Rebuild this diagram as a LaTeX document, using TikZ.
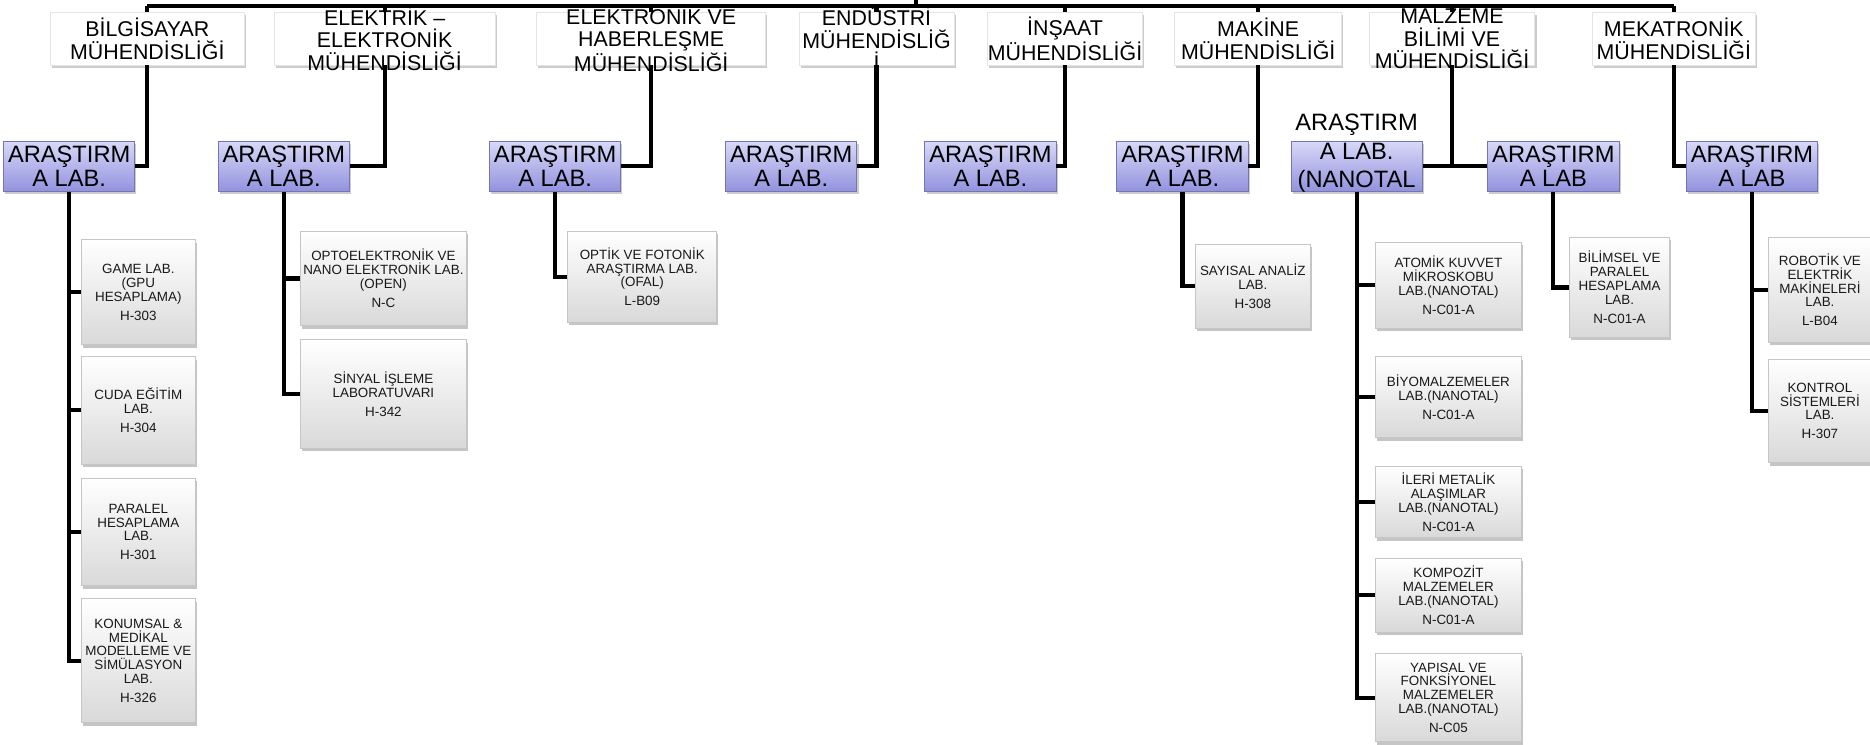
\documentclass[tikz,border=0pt]{standalone}
\usepackage{fontspec}
\setmainfont{Liberation Sans}
\usepackage{tikz}
\usetikzlibrary{shadows}
\newcommand{\px}{0.02cm}
\definecolor{araTop}{RGB}{216,216,248}
\definecolor{araBot}{RGB}{146,146,222}

\begin{document}
\begin{tikzpicture}[x=\px, y=-\px,
        conn/.style={line width=2pt, black},
        dept/.style={draw=gray!20, fill=white, inner sep=0pt, minimum height=44*\px,
            drop shadow={shadow xshift=0.8pt, shadow yshift=-1.2pt, opacity=0.4}},
        dtxt/.style={font=\fontsize{10.2}{10.6}\selectfont, align=center, inner sep=0pt},
        ara/.style={draw=araBot!80!black, top color=araTop, bottom color=araBot, inner sep=0pt,
            minimum width=110*\px, minimum height=42*\px,
            drop shadow={shadow xshift=0.8pt, shadow yshift=-1.2pt, opacity=0.4}},
        atxt/.style={font=\fontsize{11.3}{11.6}\selectfont, align=center, inner sep=0pt},
        lab/.style={draw=gray!45, top color=white, bottom color=gray!30, inner sep=0pt,
            align=center, text=black!90, font=\fontsize{6.4}{6.6}\selectfont,
            drop shadow={shadow xshift=0.8pt, shadow yshift=-1.4pt, opacity=0.45}}]
        \path[use as bounding box, fill=white] (0,0) rectangle (1568,624);

        \node[dept, minimum width=163*\px, label={[dtxt]center:BİLGİSAYAR\\MÜHENDİSLİĞİ}] (d1) at (123.5,32.5) {};
        \node[dept, minimum width=185*\px, label={[dtxt]center:ELEKTRİK –\\ELEKTRONİK\\MÜHENDİSLİĞİ}] (d2) at (322.5,32.5) {};
        \node[dept, minimum width=192*\px, label={[dtxt]center:ELEKTRONİK VE\\HABERLEŞME\\MÜHENDİSLİĞİ}] (d3) at (546,32.5) {};
        \node[dept, minimum width=130*\px, label={[dtxt]center:ENDÜSTRİ\\MÜHENDİSLİĞ\\İ}] (d4) at (735,32.5) {};
        \node[dept, minimum width=130*\px, label={[dtxt]center:İNŞAAT\\MÜHENDİSLİĞİ}] (d5) at (893,32.5) {};
        \node[dept, minimum width=140*\px, label={[dtxt]center:MAKİNE\\MÜHENDİSLİĞİ}] (d6) at (1055,32.5) {};
        \node[dept, minimum width=139*\px, label={[dtxt]center:MALZEME\\BİLİMİ VE\\MÜHENDİSLİĞİ}] (d7) at (1217.5,32.5) {};
        \node[dept, minimum width=137*\px, label={[dtxt]center:MEKATRONİK\\MÜHENDİSLİĞİ}] (d8) at (1403.5,32.5) {};

        \node[ara, label={[atxt]center:ARAŞTIRM\\A LAB.}] (a1) at (58,139.5) {};
        \node[ara, label={[atxt]center:ARAŞTIRM\\A LAB.}] (a2) at (238,139.5) {};
        \node[ara, label={[atxt]center:ARAŞTIRM\\A LAB.}] (a3) at (465.5,139.5) {};
        \node[ara, label={[atxt]center:ARAŞTIRM\\A LAB.}] (a4) at (663.5,139.5) {};
        \node[ara, label={[atxt]center:ARAŞTIRM\\A LAB.}] (a5) at (830.5,139.5) {};
        \node[ara, label={[atxt]center:ARAŞTIRM\\A LAB.}] (a6) at (991.5,139.5) {};
        \node[ara, label={[atxt, font=\fontsize{11.3}{13.8}\selectfont, yshift=11*\px]center:ARAŞTIRM\\A LAB.\\(NANOTAL}] (a7) at (1137.5,139.5) {};
        \node[ara, label={[atxt]center:ARAŞTIRM\\A LAB}] (a8) at (1302.5,139.5) {};
        \node[ara, label={[atxt]center:ARAŞTIRM\\A LAB}] (a9) at (1469,139.5) {};

        \node[lab, minimum width=96*\px, minimum height=88*\px] (l1) at (116,245) {GAME LAB.\\(GPU\\HESAPLAMA)\\[2.4pt]H-303};
        \node[lab, minimum width=96*\px, minimum height=90*\px] (l2) at (116,344) {CUDA EĞİTİM\\LAB.\\[2.4pt]H-304};
        \node[lab, minimum width=96*\px, minimum height=90*\px] (l3) at (116,446) {PARALEL\\HESAPLAMA\\LAB.\\[2.4pt]H-301};
        \node[lab, minimum width=96*\px, minimum height=104*\px] (l4) at (116,554) {KONUMSAL \&\\MEDİKAL\\MODELLEME VE\\SİMÜLASYON\\LAB.\\[2.4pt]H-326};

        \node[lab, minimum width=139*\px, minimum height=79*\px] (m1) at (321.5,233.5) {OPTOELEKTRONİK VE\\NANO ELEKTRONİK LAB.\\(OPEN)\\[2.4pt]N-C};
        \node[lab, minimum width=139*\px, minimum height=91*\px] (m2) at (321.5,330.5) {SİNYAL İŞLEME\\LABORATUVARI\\[2.4pt]H-342};

        \node[lab, minimum width=125*\px, minimum height=76*\px] (o1) at (538.5,232) {OPTİK VE FOTONİK\\ARAŞTIRMA LAB.\\(OFAL)\\[2.4pt]L-B09};

        \node[lab, minimum width=96*\px, minimum height=70*\px] (s1) at (1050.5,240) {SAYISAL ANALİZ\\LAB.\\[2.4pt]H-308};

        \node[lab, minimum width=123*\px, minimum height=72*\px] (n1) at (1214.5,239) {ATOMİK KUVVET\\MİKROSKOBU\\LAB.(NANOTAL)\\[2.4pt]N-C01-A};
        \node[lab, minimum width=123*\px, minimum height=68*\px] (n2) at (1214.5,333) {BİYOMALZEMELER\\LAB.(NANOTAL)\\[2.4pt]N-C01-A};
        \node[lab, minimum width=123*\px, minimum height=60*\px] (n3) at (1214.5,421) {İLERİ METALİK\\ALAŞIMLAR\\LAB.(NANOTAL)\\[2.4pt]N-C01-A};
        \node[lab, minimum width=123*\px, minimum height=62*\px] (n4) at (1214.5,499) {KOMPOZİT\\MALZEMELER\\LAB.(NANOTAL)\\[2.4pt]N-C01-A};
        \node[lab, minimum width=123*\px, minimum height=74*\px] (n5) at (1214.5,585) {YAPISAL VE\\FONKSİYONEL\\MALZEMELER\\LAB.(NANOTAL)\\[2.4pt]N-C05};

        \node[lab, minimum width=84*\px, minimum height=84*\px] (b1) at (1358,241) {BİLİMSEL VE\\PARALEL\\HESAPLAMA\\LAB.\\[2.4pt]N-C01-A};

        \node[lab, minimum width=86*\px, minimum height=88*\px] (r1) at (1526,243) {ROBOTİK VE\\ELEKTRİK\\MAKİNELERİ\\LAB.\\[2.4pt]L-B04};
        \node[lab, minimum width=86*\px, minimum height=87*\px] (r2) at (1526,344.5) {KONTROL\\SİSTEMLERİ\\LAB.\\[2.4pt]H-307};

        \coordinate (root) at (768,-20);
        \coordinate (bar) at (768,5);
        \draw[conn] (root) -- (bar);
        \draw[conn] (d1.north |- bar) -- (d8.north |- bar);
        \draw[conn] (d1.north) -- (d1.north |- bar);
        \draw[conn] (d2.north) -- (d2.north |- bar);
        \draw[conn] (d3.north) -- (d3.north |- bar);
        \draw[conn] (d4.north) -- (d4.north |- bar);
        \draw[conn] (d5.north) -- (d5.north |- bar);
        \draw[conn] (d6.north) -- (d6.north |- bar);
        \draw[conn] (d7.north) -- (d7.north |- bar);
        \draw[conn] (d8.north) -- (d8.north |- bar);

        \draw[conn] (d1.south) |- (a1.east);
        \draw[conn] (d2.south) |- (a2.east);
        \draw[conn] (d3.south) |- (a3.east);
        \draw[conn] (d4.south) |- (a4.east);
        \draw[conn] (d5.south) |- (a5.east);
        \draw[conn] (d6.south) |- (a6.east);
        \draw[conn] (d7.south) |- (a7.east);
        \draw[conn] (d7.south) |- (a8.west);
        \draw[conn] (d8.south) |- (a9.west);

        \draw[conn] (a1.south) |- (l1.west);
        \draw[conn] (a1.south) |- (l2.west);
        \draw[conn] (a1.south) |- (l3.west);
        \draw[conn] (a1.south) |- (l4.west);
        \draw[conn] (a2.south) |- (m1.west);
        \draw[conn] (a2.south) |- (m2.west);
        \draw[conn] (a3.south) |- (o1.west);
        \draw[conn] (a6.south) |- (s1.west);
        \draw[conn] (a7.south) |- (n1.west);
        \draw[conn] (a7.south) |- (n2.west);
        \draw[conn] (a7.south) |- (n3.west);
        \draw[conn] (a7.south) |- (n4.west);
        \draw[conn] (a7.south) |- (n5.west);
        \draw[conn] (a8.south) |- (b1.west);
        \draw[conn] (a9.south) |- (r1.west);
        \draw[conn] (a9.south) |- (r2.west);
    \end{tikzpicture}
\end{document}
